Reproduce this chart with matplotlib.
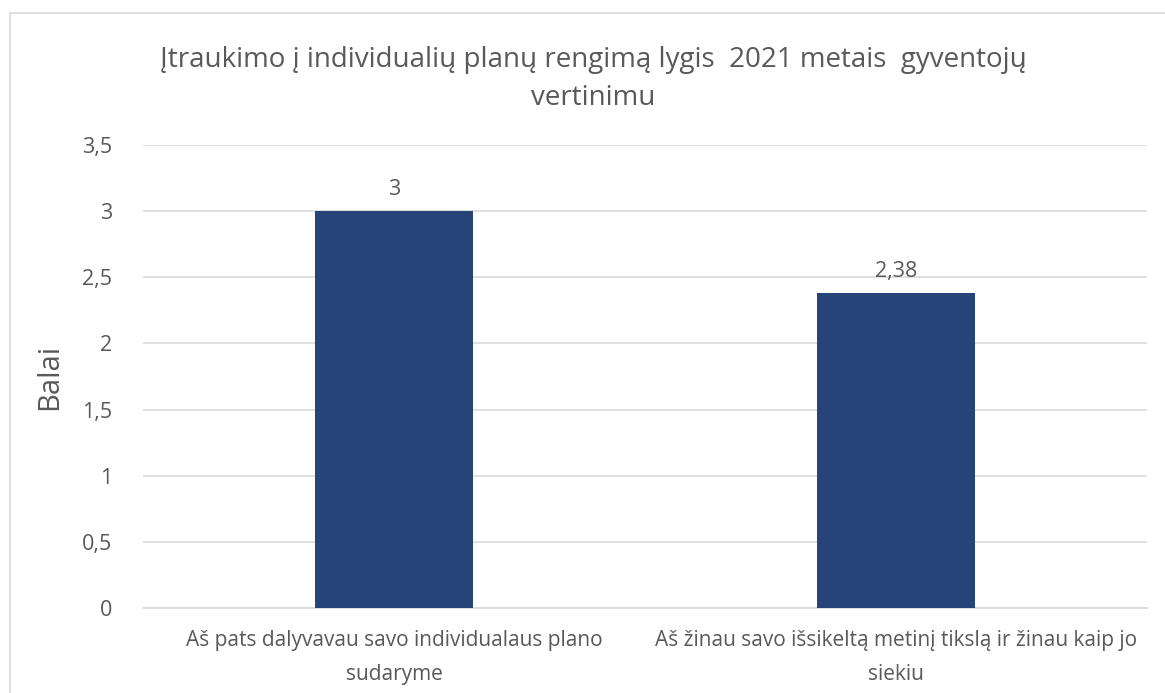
import matplotlib
matplotlib.use("Agg")
import matplotlib.pyplot as plt
from matplotlib.patches import Rectangle
from matplotlib.ticker import FuncFormatter

categories = ["Aš pats dalyvavau savo individualaus plano\nsudaryme",
              "Aš žinau savo išsikeltą metinį tikslą ir žinau kaip jo\nsiekiu"]
values = [3.0, 2.38]
value_labels = ["3", "2,38"]
yticks = [0, 0.5, 1, 1.5, 2, 2.5, 3, 3.5]
title = "Įtraukimo į individualių planų rengimą lygis  2021 metais  gyventojų\nvertinimu"
ylabel = "Balai"

plt.rcParams['font.family'] = ['Open Sans', 'DejaVu Sans']
txt = "#595959"
bar_color = "#264478"
grid_color = "#d9d9d9"

fig = plt.figure(figsize=(11.65, 6.93), dpi=100)
ax = fig.add_axes([143/1165, 1-608/693, (1147-143)/1165, (608-145)/693])

x = list(range(len(categories)))
ax.bar(x, values, width=0.313, color=bar_color, zorder=3)
ax.set_xlim(-0.5, len(categories)-0.5)
ax.set_ylim(0, 3.5)
ax.set_yticks(yticks)
ax.yaxis.set_major_formatter(FuncFormatter(lambda v, p: ("%g" % v).replace(".", ",")))
ax.set_xticks(x)
ax.set_xticklabels(categories, fontsize=15, color=txt, linespacing=1.8)
ax.tick_params(axis='y', length=0, pad=22, labelsize=15.5, labelcolor=txt)
ax.tick_params(axis='x', length=0, pad=16)
ax.grid(axis='y', color=grid_color, linewidth=1.2, zorder=0)
for s in ["top", "right", "left"]:
    ax.spines[s].set_visible(False)
ax.spines["bottom"].set_color(grid_color)
ax.spines["bottom"].set_linewidth(1.2)

for xi, v, lab in zip(x, values, value_labels):
    ax.annotate(lab, (xi, v), xytext=(0, 8), textcoords="offset points",
                ha="center", va="bottom", fontsize=15.5, color=txt)

ax.set_ylabel(ylabel, fontsize=21, color=txt)
ax.yaxis.set_label_coords(-(143-64)/1004, 0.5)

fig.text(593/1165, 1-79/693, title, ha="center", va="center", fontsize=20,
         color=txt, linespacing=1.45)

fig.patches.append(Rectangle((9.5/1165, -0.1), 1.2, 1-13.5/693+0.1, transform=fig.transFigure,
                             fill=False, edgecolor="#d9d9d9", linewidth=1.2))

fig.savefig("out.png", dpi=100)
